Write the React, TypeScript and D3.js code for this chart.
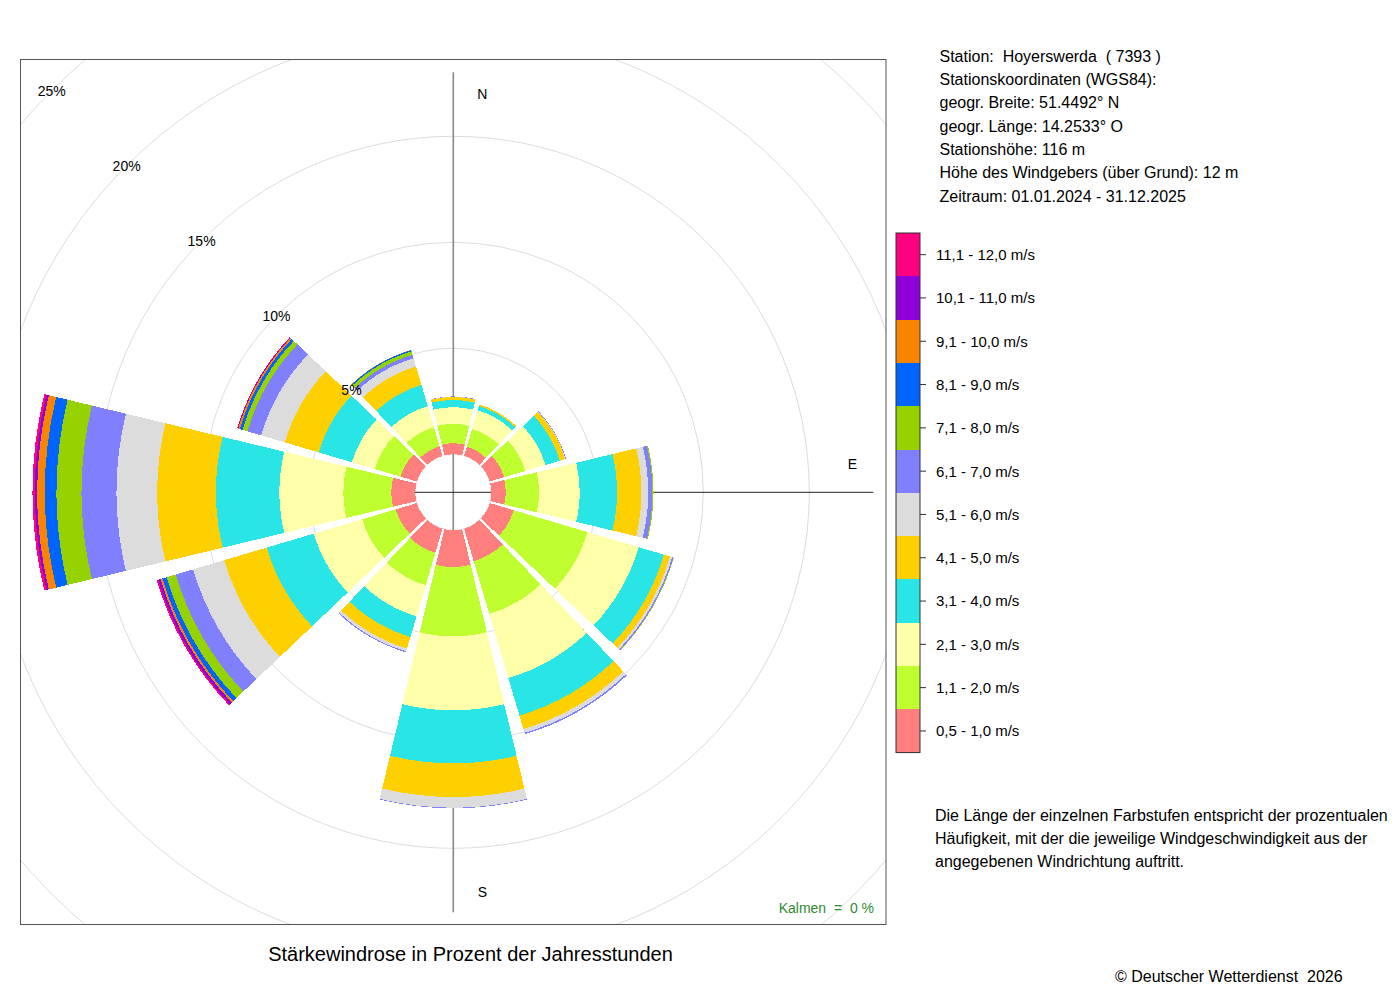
import React from "react";
import * as d3 from "d3";

// ---------- data ----------
const directions = [0, 30, 60, 90, 120, 150, 180, 210, 240, 270, 300, 330];

const speedClasses = [
  "0,5 - 1,0 m/s",
  "1,1 - 2,0 m/s",
  "2,1 - 3,0 m/s",
  "3,1 - 4,0 m/s",
  "4,1 - 5,0 m/s",
  "5,1 - 6,0 m/s",
  "6,1 - 7,0 m/s",
  "7,1 - 8,0 m/s",
  "8,1 - 9,0 m/s",
  "9,1 - 10,0 m/s",
  "10,1 - 11,0 m/s",
  "11,1 - 12,0 m/s",
];

const classColors = [
  "#FF7F7F", "#BFFF30", "#FFFFAA", "#2AE5E5", "#FFD000", "#DCDCDC",
  "#8080FF", "#96D200", "#0064FF", "#F88500", "#9000D8", "#FF0080",
];

// percent of hours per direction (N, 30, 60, E, 120, 150, S, 210, 240, W, 300, 330)
const s0510 = [0.52, 0.45, 0.71, 0.68, 1.18, 1.6, 1.73, 1.18, 1.04, 1.13, 0.8, 0.47];
const s1120 = [0.91, 0.87, 1.04, 1.57, 3.63, 2.59, 3.27, 1.6, 1.65, 2.26, 1.27, 0.94];
const s2130 = [0.79, 0.92, 0.99, 1.92, 2.52, 3.16, 3.49, 1.53, 2.38, 3.02, 1.13, 1.04];
const s3140 = [0.34, 0.21, 0.71, 1.76, 1.24, 1.84, 2.5, 1.01, 2.32, 2.99, 1.63, 1.04];
const s4150 = [0.14, 0.07, 0.26, 1.15, 0.3, 0.66, 1.59, 0.57, 2.09, 2.77, 1.67, 0.9];
const s5160 = [0.01, 0.0, 0.02, 0.32, 0.11, 0.19, 0.5, 0.14, 1.53, 1.92, 1.16, 0.41];
const s6170 = [0.02, 0.0, 0.03, 0.2, 0.06, 0.07, 0.03, 0.05, 0.85, 1.65, 0.68, 0.17];
const s7180 = [0, 0, 0, 0.05, 0.02, 0, 0, 0, 0.45, 1.18, 0.24, 0.17];
const s8190 = [0, 0, 0, 0, 0, 0, 0, 0, 0.21, 0.55, 0.13, 0.06];
const s91100 = [0, 0, 0, 0, 0, 0, 0, 0, 0.09, 0.36, 0.08, 0.01];
const s101110 = [0, 0, 0, 0, 0, 0, 0, 0, 0.12, 0.11, 0.03, 0];
const s111120 = [0, 0, 0, 0, 0, 0, 0, 0, 0.07, 0.11, 0.02, 0];

const classValues = [s0510, s1120, s2130, s3140, s4150, s5160, s6170, s7180, s8190, s91100, s101110, s111120];

const gridPercents = [5, 10, 15, 20, 25];
const compassLabels = ["N", "E", "S"];

const stationLines = [
  "Station:  Hoyerswerda  ( 7393 )",
  "Stationskoordinaten (WGS84):",
  "geogr. Breite: 51.4492° N",
  "geogr. Länge: 14.2533° O",
  "Stationshöhe: 116 m",
  "Höhe des Windgebers (über Grund): 12 m",
  "Zeitraum: 01.01.2024 - 31.12.2025",
];

const noteLines = [
  "Die Länge der einzelnen Farbstufen entspricht der prozentualen",
  "Häufigkeit, mit der die jeweilige Windgeschwindigkeit aus der",
  "angegebenen Windrichtung auftritt.",
];

const titleText = "Stärkewindrose in Prozent der Jahresstunden";
const calmText = "Kalmen  =  0 %";
const copyrightText = "© Deutscher Wetterdienst  2026";

// ---------- layout ----------
const W = 1400;
const H = 1000;
const FONT = "'Liberation Sans', Arial, Helvetica, sans-serif";
const cx = 453.3;
const cy = 492.3;
const box = { x: 20.5, y: 59.5, w: 865.5, h: 865 };
const hole = 38;
const pxPerPercent = 21.2;
const halfWidthDeg = 13.5;

export default function App() {
  const rScale = d3.scaleLinear().domain([0, 25]).range([hole, hole + 25 * pxPerPercent]);
  const toRad = (deg: number) => (deg * Math.PI) / 180;

  const keys = speedClasses.map((_, i) => "c" + i);
  const rows = directions.map((dir, j) => {
    const row: any = { dir };
    classValues.forEach((arr, i) => (row["c" + i] = arr[j]));
    return row;
  });
  const stacked = d3.stack<any>().keys(keys)(rows);

  const arcGen = d3.arc<any>();

  // painter's order: outermost class first, each drawn from the hole to its cumulative top
  const sectorPaths: { d: string; fill: string; key: string }[] = [];
  for (let i = stacked.length - 1; i >= 0; i--) {
    const series = stacked[i];
    series.forEach((pt, j) => {
      const val = pt[1] - pt[0];
      if (val <= 0) return;
      const dir = directions[j];
      const d = arcGen({
        innerRadius: hole,
        outerRadius: rScale(pt[1]),
        startAngle: toRad(dir - halfWidthDeg),
        endAngle: toRad(dir + halfWidthDeg),
      } as any) as string;
      sectorPaths.push({ d, fill: classColors[i], key: `s${i}-${j}` });
    });
  }

  const labelR = 400;
  const compassPos: Record<string, [number, number]> = {
    N: [cx + 29, cy - labelR + 7],
    E: [cx + labelR - 1, cy - 23],
    S: [cx + 29, cy + labelR + 5],
  };

  // legend
  const legX = 896;
  const legTop = 233;
  const legBandH = 43.3;
  const legW = 24;
  const legendOrder = speedClasses.map((_, i) => speedClasses.length - 1 - i);

  return (
    <svg
      width={W}
      height={H}
      viewBox={`0 0 ${W} ${H}`}
      style={{ position: "absolute", left: 0, top: 0, background: "#fff", fontFamily: FONT }}
    >
      <rect x={0} y={0} width={W} height={H} fill="#fff" />
      <defs>
        <clipPath id="plotClip">
          <rect x={box.x} y={box.y} width={box.w} height={box.h} />
        </clipPath>
      </defs>

      {/* grid circles */}
      <g clipPath="url(#plotClip)">
        {gridPercents.map((p) => (
          <circle key={p} cx={cx} cy={cy} r={rScale(p)} fill="none" stroke="#dcdcdc" strokeWidth={1} />
        ))}
        <circle cx={cx} cy={cy} r={hole} fill="none" stroke="#e0e0e0" strokeWidth={1} />
      </g>

      {/* axes */}
      <line x1={cx} x2={cx} y1={cy - 420} y2={cy + 420} stroke="#8a8a8a" strokeWidth={1.6} />
      <line x1={cx - 420} x2={cx + 420} y1={cy} y2={cy} stroke="#222" strokeWidth={1} />

      {/* compass labels */}
      {compassLabels.map((l) => (
        <text key={l} x={compassPos[l][0]} y={compassPos[l][1]} fontSize={14} textAnchor="middle" fill="#000">
          {l}
        </text>
      ))}

      {/* sectors */}
      <g transform={`translate(${cx},${cy})`} shapeRendering="crispEdges">
        {sectorPaths.map((s) => (
          <path key={s.key} d={s.d} fill={s.fill} stroke="none" />
        ))}
      </g>

      {/* percent labels */}
      {gridPercents.map((p) => {
        const r = rScale(p);
        return (
          <text
            key={p}
            x={cx - r * Math.SQRT1_2}
            y={cy - r * Math.SQRT1_2 + 5}
            fontSize={14}
            textAnchor="middle"
            fill="#000"
          >
            {p}%
          </text>
        );
      })}

      {/* box */}
      <rect x={box.x} y={box.y} width={box.w} height={box.h} fill="none" stroke="#555" strokeWidth={1} />

      {/* calm */}
      <text x={874} y={912.5} fontSize={14} textAnchor="end" fill="#2E8B2E" style={{ whiteSpace: "pre" }}>
        {calmText}
      </text>

      {/* title */}
      <text x={470.5} y={961} fontSize={20} textAnchor="middle" fill="#000">
        {titleText}
      </text>

      {/* station info */}
      {stationLines.map((t, i) => (
        <text key={i} x={939.5} y={61.7 + i * 23.3} fontSize={16} fill="#000" style={{ whiteSpace: "pre" }}>
          {t}
        </text>
      ))}

      {/* legend */}
      {legendOrder.map((ci, k) => {
        const y0 = legTop + k * legBandH;
        return (
          <g key={ci}>
            <rect x={legX} y={y0} width={legW} height={legBandH} fill={classColors[ci]} shapeRendering="crispEdges" />
            <line x1={legX + legW} x2={legX + legW + 6} y1={y0 + legBandH / 2} y2={y0 + legBandH / 2} stroke="#333" strokeWidth={1} />
            <text x={936} y={y0 + legBandH / 2 + 5.4} fontSize={15} fill="#000">
              {speedClasses[ci]}
            </text>
          </g>
        );
      })}
      <rect
        x={legX}
        y={legTop}
        width={legW}
        height={legBandH * speedClasses.length}
        fill="none"
        stroke="#333"
        strokeWidth={1}
      />

      {/* note */}
      {noteLines.map((t, i) => (
        <text key={i} x={935} y={821 + i * 23} fontSize={16} fill="#000">
          {t}
        </text>
      ))}

      {/* copyright */}
      <text x={1115} y={982} fontSize={16} fill="#000" style={{ whiteSpace: "pre" }}>
        {copyrightText}
      </text>
    </svg>
  );
}
